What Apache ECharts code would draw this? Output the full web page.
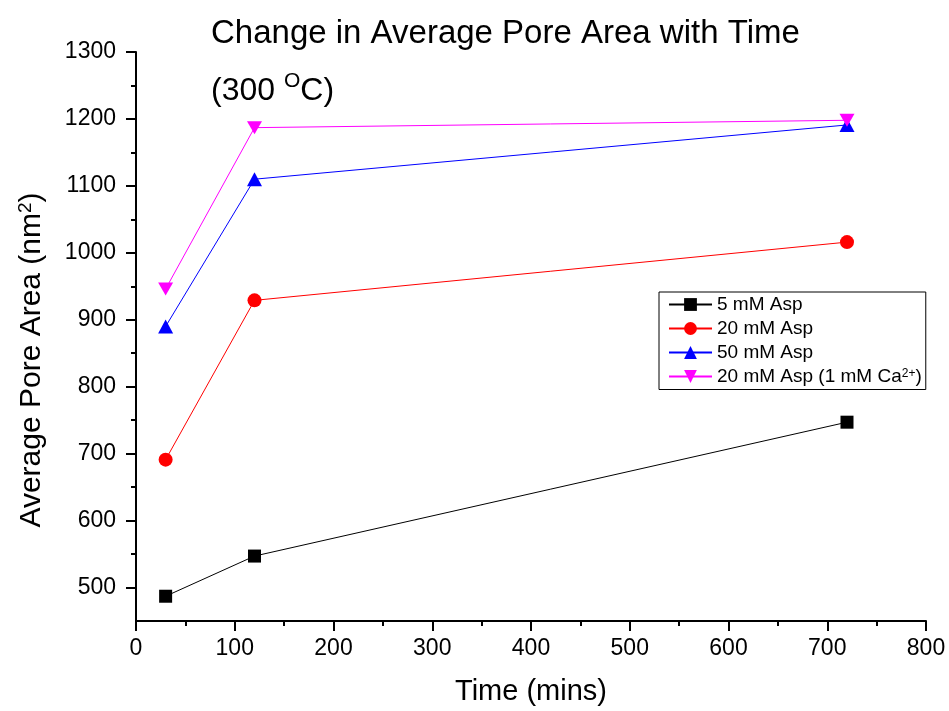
<!DOCTYPE html>
<html>
<head>
<meta charset="utf-8">
<script src="https://cdn.jsdelivr.net/npm/echarts@6/dist/echarts.min.js"></script>
<style>
  html, body { margin: 0; padding: 0; background: #fff; }
  #chart { width: 949px; height: 711px; }
</style>
</head>
<body>
<div id="chart"></div>
<script>
// Sampling times (minutes)
const times = [30, 120, 720];

// Average pore area (nm^2) for each solution
const asp5 = [487, 547, 747];
const asp20 = [691, 929, 1016];
const asp50 = [890, 1110, 1191];
const asp20Ca = [946, 1187, 1198];

const seriesNames = ['5 mM Asp', '20 mM Asp', '50 mM Asp', '20 mM Asp (1 mM Ca2+)'];

// Axis ticks
const yMajorTicks = [500, 600, 700, 800, 900, 1000, 1100, 1200, 1300];
const yMinorTicks = [550, 650, 750, 850, 950, 1050, 1150, 1250];

const FONT = 'Liberation Sans, Arial, sans-serif';

function pairs(xs, ys) {
  return xs.map((x, i) => [x, ys[i]]);
}

const chart = echarts.init(document.getElementById('chart'), null, { renderer: 'canvas' });

const axisLineStyle = { color: '#000', width: 2 };

const option = {
  backgroundColor: '#fff',
  animation: false,
  textStyle: { fontFamily: FONT },
  title: [
    {
      text: 'Change in Average Pore Area with Time',
      left: 206,
      top: 12,
      textStyle: { fontFamily: FONT, fontSize: 33, fontWeight: 'normal', color: '#000' }
    },
    {
      text: '{t|(300 }{s|O}{t|C)}',
      left: 206,
      top: 66,
      textStyle: {
        fontFamily: FONT,
        fontWeight: 'normal',
        rich: {
          t: { fontFamily: FONT, fontSize: 32, fontWeight: 'normal', color: '#000', lineHeight: 36, verticalAlign: 'bottom' },
          s: { fontFamily: FONT, fontSize: 21, fontWeight: 'normal', color: '#000', lineHeight: 36, verticalAlign: 'top', padding: [0, 0, 14, 0] }
        }
      }
    }
  ],
  graphic: [
    {
      type: 'text',
      x: 32,
      y: 360,
      rotation: Math.PI / 2,
      style: {
        text: '{a|Average Pore Area (nm}{s|2}{a|)}',
        align: 'center',
        verticalAlign: 'middle',
        fill: '#000',
        rich: {
          a: { fontFamily: FONT, fontSize: 30, fill: '#000' },
          s: { fontFamily: FONT, fontSize: 19, fill: '#000', verticalAlign: 'top', padding: [0, 0, 13, 0] }
        }
      }
    }
  ],
  grid: { left: 136, right: 23, top: 52, bottom: 89, containLabel: false },
  legend: {
    left: 659,
    top: 292,
    orient: 'vertical',
    data: seriesNames,
    itemWidth: 43,
    itemHeight: 16,
    itemGap: 5,
    padding: [3, 4, 2, 9],
    borderColor: '#000',
    borderWidth: 1,
    borderRadius: 0,
    itemStyle: { borderWidth: 0 },
    formatter: function (name) {
      if (name === seriesNames[3]) {
        return '{a|20 mM Asp (1 mM Ca}{s|2+}{a|)}';
      }
      return '{a|' + name + '}';
    },
    textStyle: {
      fontFamily: FONT,
      color: '#000',
      padding: [0, 0, 0, 0],
      rich: {
        a: { fontFamily: FONT, fontSize: 19, color: '#000', lineHeight: 18 },
        s: { fontFamily: FONT, fontSize: 12, color: '#000', verticalAlign: 'top', lineHeight: 18, padding: [0, 0, 8, 0] }
      }
    }
  },
  xAxis: {
    type: 'value',
    min: 0,
    max: 800,
    interval: 100,
    name: 'Time (mins)',
    nameLocation: 'middle',
    nameGap: 56,
    nameTextStyle: { fontFamily: FONT, fontSize: 29, color: '#000' },
    axisLine: { show: true, onZero: false, lineStyle: axisLineStyle },
    axisTick: { show: true, inside: false, length: 10, lineStyle: { color: '#000', width: 2 } },
    minorTick: { show: true, splitNumber: 2, length: 5, lineStyle: { color: '#000', width: 2 } },
    splitLine: { show: false },
    minorSplitLine: { show: false },
    axisLabel: { fontFamily: FONT, fontSize: 23, color: '#000', margin: 16, formatter: (v) => String(v) }
  },
  yAxis: [
    {
      type: 'value',
      min: 450,
      max: 1300,
      position: 'left',
      axisLine: { show: true, onZero: false, lineStyle: axisLineStyle },
      axisTick: { show: true, inside: false, length: 10, customValues: yMajorTicks, lineStyle: { color: '#000', width: 2 } },
      axisLabel: { fontFamily: FONT, fontSize: 23, color: '#000', margin: 20, customValues: yMajorTicks, formatter: (v) => String(v) },
      splitLine: { show: false }
    },
    {
      type: 'value',
      min: 450,
      max: 1300,
      position: 'left',
      axisLine: { show: false },
      axisTick: { show: true, inside: false, length: 5, customValues: yMinorTicks, lineStyle: { color: '#000', width: 2 } },
      axisLabel: { show: false },
      splitLine: { show: false }
    }
  ],
  series: [
    {
      name: seriesNames[0],
      type: 'line',
      data: pairs(times, asp5),
      symbol: 'rect',
      symbolSize: 13,
      color: '#000000',
      lineStyle: { width: 1, color: '#000000' },
      itemStyle: { color: '#000000', borderWidth: 0 },
      z: 2
    },
    {
      name: seriesNames[1],
      type: 'line',
      data: pairs(times, asp20),
      symbol: 'circle',
      symbolSize: 14,
      color: '#ff0000',
      lineStyle: { width: 1, color: '#ff0000' },
      itemStyle: { color: '#ff0000', borderWidth: 0 },
      z: 3
    },
    {
      name: seriesNames[2],
      type: 'line',
      data: pairs(times, asp50),
      symbol: 'triangle',
      symbolSize: [15, 14],
      color: '#0000ff',
      lineStyle: { width: 1, color: '#0000ff' },
      itemStyle: { color: '#0000ff', borderWidth: 0 },
      z: 4
    },
    {
      name: seriesNames[3],
      type: 'line',
      data: pairs(times, asp20Ca),
      symbol: 'path://M0,0L2,0L1,1.8Z',
      symbolSize: [15, 13],
      color: '#ff00ff',
      lineStyle: { width: 1, color: '#ff00ff' },
      itemStyle: { color: '#ff00ff', borderWidth: 0 },
      z: 5
    }
  ]
};

chart.setOption(option);
</script>
</body>
</html>
